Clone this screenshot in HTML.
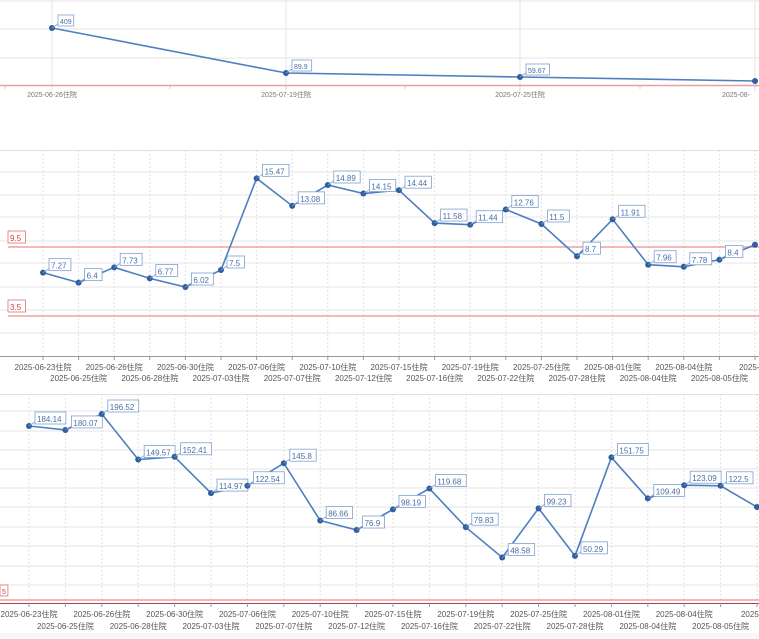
<!DOCTYPE html><html><head><meta charset="utf-8"><style>body{margin:0;background:#fff}svg{display:block}</style></head><body>
<svg id="s" width="759" height="639" xmlns="http://www.w3.org/2000/svg" font-family="Liberation Sans, Noto Sans CJK SC, sans-serif"></svg>
<script>
var s=document.getElementById('s'),h='';
function L(x1,y1,x2,y2,c,w,d){h+='<line x1="'+x1+'" y1="'+y1+'" x2="'+x2+'" y2="'+y2+'" stroke="'+c+'" stroke-width="'+(w||1)+'"'+(d?' stroke-dasharray="'+d+'"':'')+'/>';}
function T(x,y,t,sz,c,a){h+='<text x="'+x+'" y="'+y+'" font-size="'+sz+'" fill="'+c+'" text-anchor="'+(a||'middle')+'">'+t+'</text>';}
function box(x,y,t,sz,c,bc){var w=t.length*sz*0.56+4;h+='<rect x="'+x+'" y="'+(y-sz-2)+'" width="'+w+'" height="'+(sz+4)+'" fill="#fff" stroke="'+bc+'" stroke-width="0.8"/>';T(x+2,y,t,sz,c,'start');}
function series(xs,ys,vals,sz){var p='';for(var i=0;i<xs.length;i++)p+=(i?'L':'M')+xs[i]+' '+ys[i];h+='<path d="'+p+'" fill="none" stroke="#4e7fc0" stroke-width="1.6"/>';
for(var i=0;i<xs.length;i++){h+='<circle cx="'+xs[i]+'" cy="'+ys[i]+'" r="3" fill="#2f5f9e"/>';if(vals[i]!=null){L(xs[i],ys[i],xs[i]+6,ys[i]-4,'#7fa0d0',0.8);box(xs[i]+6,ys[i]-4,vals[i],sz,'#4a6fa5','#7fa0d0');}}}
// top chart
[1,29,58].forEach(function(y){L(0,y,759,y,'#e6e6e6');});
[52,286,520,755].forEach(function(x){L(x,0,x,92,'#e6e6e6');});
L(0,85.5,759,85.5,'#e8a0a0',1.5);
[5,170,286,405,520,640,755].forEach(function(x){L(x,86,x,89,'#ccc');});
series([52,286,520,755],[28,73,77,81],['409','89.9','59.67',null],7);
T(52,97,'2025-06-26住院',7,'#777');T(286,97,'2025-07-19住院',7,'#777');T(520,97,'2025-07-25住院',7,'#777');T(722,97,'2025-08-',7,'#777','start');
// middle chart
var mx=[],my=[],mv=[7.27,6.4,7.73,6.77,6.02,7.5,15.47,13.08,14.89,14.15,14.44,11.58,11.44,12.76,11.5,8.7,11.91,7.96,7.78,8.4,9.7];
for(var i=0;i<21;i++){mx.push(43+i*35.6);my.push(247+(9.5-mv[i])*11.5);}
L(0,150.5,759,150.5,'#e0e0e0');
[172,195,217,241,263,287,310,333].forEach(function(y){L(0,y,759,y,'#e6e6e6');});
for(var i=0;i<21;i++){L(mx[i],150,mx[i],356,'#e2e2e2',1,'2,2');}
L(8,247,759,247,'#f0a0a0',1.5);L(8,316,759,316,'#f0a0a0',1.5);
box(8,241,'9.5',8,'#d04040','#e07070');box(8,310,'3.5',8,'#d04040','#e07070');
L(0,356.5,759,356.5,'#999');
var md=['06-23','06-25','06-26','06-28','06-30','07-03','07-06','07-07','07-10','07-12','07-15','07-16','07-19','07-22','07-25','07-28','08-01','08-04','08-04','08-05','08-'];
for(var i=0;i<21;i++){L(mx[i],356,mx[i],360,'#999');T(mx[i],i%2?381:370,'2025-'+md[i]+(i==20?'':'住院'),8,'#555');}
series(mx,my,mv.map(function(v,i){return i==20?null:String(v);}),8);
// bottom chart
var bx=[],by=[],bv=[184.14,180.07,196.52,149.57,152.41,114.97,122.54,145.8,86.66,76.9,98.19,119.68,79.83,48.58,99.23,50.29,151.75,109.49,123.09,122.5,100.6];
for(var i=0;i<21;i++){bx.push(29+i*36.4);by.push(426+(184.14-bv[i])*0.97);}
L(0,394.5,759,394.5,'#e0e0e0');
[411,431,450,469,488,507,527,546,566,585].forEach(function(y){L(0,y,759,y,'#e6e6e6');});
for(var i=0;i<21;i++){L(bx[i],394,bx[i],603,'#e2e2e2',1,'2,2');}
L(0,600,759,600,'#f0a0a0',1.5);L(0,603.5,759,603.5,'#b04040',1);
box(0,594,'5',7,'#d04040','#e07070');
var bd=['06-23','06-25','06-26','06-28','06-30','07-03','07-06','07-07','07-10','07-12','07-15','07-16','07-19','07-22','07-25','07-28','08-01','08-04','08-04','08-05','08-'];
for(var i=0;i<21;i++){L(bx[i],603,bx[i],607,'#999');T(bx[i],i%2?629:617,'2025-'+bd[i]+(i==20?'':'住院'),8,'#555');}
series(bx,by,bv.map(function(v,i){return i==20?null:String(v);}),8);
h+='<rect x="0" y="633" width="759" height="6" fill="#f7f7f7"/>';
s.innerHTML=h;
</script></body></html>
